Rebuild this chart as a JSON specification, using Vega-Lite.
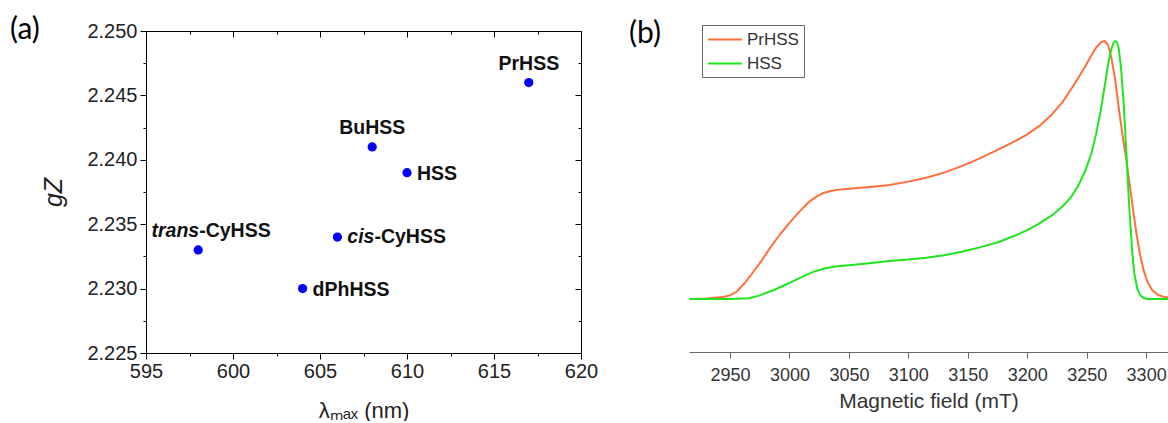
{
  "$schema": "https://vega.github.io/schema/vega-lite/v6.json",
  "background": "white",
  "padding": {"left": 10, "top": 15, "right": 0, "bottom": 0},
  "bounds": "flush",
  "spacing": 108,
  "resolve": {"legend": {"color": "independent"}},
  "config": {"view": {"stroke": null}, "axis": {"grid": false}},
  "datasets": {
    "points": [
      {"name": "trans-CyHSS", "lambda": 598, "gz": 2.233, "prefix": "trans", "suffix": "-CyHSS"},
      {"name": "dPhHSS", "lambda": 604, "gz": 2.230, "prefix": "", "suffix": "dPhHSS"},
      {"name": "cis-CyHSS", "lambda": 606, "gz": 2.234, "prefix": "cis", "suffix": "-CyHSS"},
      {"name": "BuHSS", "lambda": 608, "gz": 2.241, "prefix": "", "suffix": "BuHSS"},
      {"name": "HSS", "lambda": 610, "gz": 2.239, "prefix": "", "suffix": "HSS"},
      {"name": "PrHSS", "lambda": 617, "gz": 2.246, "prefix": "", "suffix": "PrHSS"}
    ],
    "spectrum": [
      {"sample": "PrHSS", "B": 2916, "I": 0.000},
      {"sample": "PrHSS", "B": 2930, "I": 0.002},
      {"sample": "PrHSS", "B": 2944, "I": 0.008},
      {"sample": "PrHSS", "B": 2950, "I": 0.014},
      {"sample": "PrHSS", "B": 2956, "I": 0.030},
      {"sample": "PrHSS", "B": 2962, "I": 0.060},
      {"sample": "PrHSS", "B": 2968, "I": 0.095},
      {"sample": "PrHSS", "B": 2976, "I": 0.145},
      {"sample": "PrHSS", "B": 2984, "I": 0.200},
      {"sample": "PrHSS", "B": 2992, "I": 0.250},
      {"sample": "PrHSS", "B": 3000, "I": 0.295},
      {"sample": "PrHSS", "B": 3008, "I": 0.337},
      {"sample": "PrHSS", "B": 3016, "I": 0.375},
      {"sample": "PrHSS", "B": 3022, "I": 0.395},
      {"sample": "PrHSS", "B": 3028, "I": 0.410},
      {"sample": "PrHSS", "B": 3034, "I": 0.418},
      {"sample": "PrHSS", "B": 3040, "I": 0.423},
      {"sample": "PrHSS", "B": 3050, "I": 0.427},
      {"sample": "PrHSS", "B": 3060, "I": 0.431},
      {"sample": "PrHSS", "B": 3070, "I": 0.435},
      {"sample": "PrHSS", "B": 3084, "I": 0.442},
      {"sample": "PrHSS", "B": 3100, "I": 0.455},
      {"sample": "PrHSS", "B": 3115, "I": 0.470},
      {"sample": "PrHSS", "B": 3130, "I": 0.490},
      {"sample": "PrHSS", "B": 3145, "I": 0.515},
      {"sample": "PrHSS", "B": 3160, "I": 0.545},
      {"sample": "PrHSS", "B": 3176, "I": 0.580},
      {"sample": "PrHSS", "B": 3190, "I": 0.612},
      {"sample": "PrHSS", "B": 3200, "I": 0.638},
      {"sample": "PrHSS", "B": 3210, "I": 0.670},
      {"sample": "PrHSS", "B": 3220, "I": 0.712},
      {"sample": "PrHSS", "B": 3230, "I": 0.765},
      {"sample": "PrHSS", "B": 3240, "I": 0.835},
      {"sample": "PrHSS", "B": 3248, "I": 0.895},
      {"sample": "PrHSS", "B": 3254, "I": 0.945},
      {"sample": "PrHSS", "B": 3258, "I": 0.975},
      {"sample": "PrHSS", "B": 3262, "I": 0.995},
      {"sample": "PrHSS", "B": 3265, "I": 1.000},
      {"sample": "PrHSS", "B": 3268, "I": 0.985},
      {"sample": "PrHSS", "B": 3271, "I": 0.930},
      {"sample": "PrHSS", "B": 3274, "I": 0.850},
      {"sample": "PrHSS", "B": 3277, "I": 0.740},
      {"sample": "PrHSS", "B": 3280, "I": 0.640},
      {"sample": "PrHSS", "B": 3283, "I": 0.550},
      {"sample": "PrHSS", "B": 3286, "I": 0.450},
      {"sample": "PrHSS", "B": 3289, "I": 0.345},
      {"sample": "PrHSS", "B": 3292, "I": 0.250},
      {"sample": "PrHSS", "B": 3295, "I": 0.170},
      {"sample": "PrHSS", "B": 3298, "I": 0.110},
      {"sample": "PrHSS", "B": 3301, "I": 0.068},
      {"sample": "PrHSS", "B": 3305, "I": 0.035},
      {"sample": "PrHSS", "B": 3310, "I": 0.016},
      {"sample": "PrHSS", "B": 3315, "I": 0.008},
      {"sample": "PrHSS", "B": 3319, "I": 0.005},
      {"sample": "HSS", "B": 2916, "I": 0.000},
      {"sample": "HSS", "B": 2950, "I": 0.000},
      {"sample": "HSS", "B": 2966, "I": 0.003},
      {"sample": "HSS", "B": 2975, "I": 0.014},
      {"sample": "HSS", "B": 2987, "I": 0.035},
      {"sample": "HSS", "B": 2999, "I": 0.060},
      {"sample": "HSS", "B": 3010, "I": 0.085},
      {"sample": "HSS", "B": 3020, "I": 0.105},
      {"sample": "HSS", "B": 3030, "I": 0.119},
      {"sample": "HSS", "B": 3040, "I": 0.127},
      {"sample": "HSS", "B": 3048, "I": 0.130},
      {"sample": "HSS", "B": 3065, "I": 0.138},
      {"sample": "HSS", "B": 3084, "I": 0.147},
      {"sample": "HSS", "B": 3100, "I": 0.153},
      {"sample": "HSS", "B": 3115, "I": 0.160},
      {"sample": "HSS", "B": 3130, "I": 0.170},
      {"sample": "HSS", "B": 3145, "I": 0.183},
      {"sample": "HSS", "B": 3160, "I": 0.200},
      {"sample": "HSS", "B": 3176, "I": 0.221},
      {"sample": "HSS", "B": 3190, "I": 0.246},
      {"sample": "HSS", "B": 3200, "I": 0.267},
      {"sample": "HSS", "B": 3210, "I": 0.292},
      {"sample": "HSS", "B": 3221, "I": 0.325},
      {"sample": "HSS", "B": 3230, "I": 0.360},
      {"sample": "HSS", "B": 3237, "I": 0.396},
      {"sample": "HSS", "B": 3243, "I": 0.440},
      {"sample": "HSS", "B": 3249, "I": 0.499},
      {"sample": "HSS", "B": 3254, "I": 0.565},
      {"sample": "HSS", "B": 3258, "I": 0.641},
      {"sample": "HSS", "B": 3262, "I": 0.735},
      {"sample": "HSS", "B": 3265.5, "I": 0.835},
      {"sample": "HSS", "B": 3268, "I": 0.910},
      {"sample": "HSS", "B": 3270.5, "I": 0.964},
      {"sample": "HSS", "B": 3272.5, "I": 0.992},
      {"sample": "HSS", "B": 3274, "I": 1.000},
      {"sample": "HSS", "B": 3275.5, "I": 0.995},
      {"sample": "HSS", "B": 3277, "I": 0.970},
      {"sample": "HSS", "B": 3279, "I": 0.890},
      {"sample": "HSS", "B": 3281, "I": 0.767},
      {"sample": "HSS", "B": 3283, "I": 0.600},
      {"sample": "HSS", "B": 3285.5, "I": 0.380},
      {"sample": "HSS", "B": 3288, "I": 0.200},
      {"sample": "HSS", "B": 3290, "I": 0.100},
      {"sample": "HSS", "B": 3292.5, "I": 0.040},
      {"sample": "HSS", "B": 3295, "I": 0.015},
      {"sample": "HSS", "B": 3298, "I": 0.004},
      {"sample": "HSS", "B": 3301, "I": 0.000},
      {"sample": "HSS", "B": 3319, "I": 0.000}
    ]
  },
  "hconcat": [
    {
      "width": 435,
      "height": 322,
      "title": {"text": "(a)", "anchor": "start", "frame": "group", "dx": -136, "dy": 24, "offset": 0, "font": "Lato", "fontSize": 30, "fontWeight": "normal", "color": "black"},
      "data": {"name": "points"},
      "layer": [
        {
          "mark": {"type": "point", "filled": true, "size": 85, "color": "#0000ff", "opacity": 1},
          "encoding": {
            "x": {"field": "lambda", "type": "quantitative", "scale": {"domain": [595, 620], "nice": false, "zero": false},
              "axis": {"orient": "bottom", "values": [595, 597.5, 600, 602.5, 605, 607.5, 610, 612.5, 615, 617.5, 620],
                "labelExpr": "datum.value % 5 === 0 ? datum.label : ''",
                "tickSize": {"condition": {"test": "datum.value % 5 !== 0", "value": 3}, "value": 6},
                "domainColor": "black", "tickColor": "black", "labelColor": "#222", "labelFont": "Liberation Sans", "labelFontSize": 20, "labelPadding": 2, "labelOverlap": false, "labelFlush": false,
                "title": "λₘₐₓ (nm)", "titleFont": "Liberation Sans", "titleFontSize": 22, "titleFontWeight": "normal", "titleColor": "#222", "titlePadding": 19}},
            "y": {"field": "gz", "type": "quantitative", "scale": {"domain": [2.225, 2.25], "nice": false, "zero": false},
              "axis": {"orient": "left", "values": [2.225, 2.2275, 2.23, 2.2325, 2.235, 2.2375, 2.24, 2.2425, 2.245, 2.2475, 2.25], "format": ".3f",
                "labelExpr": "abs(round(datum.value*10000) % 50) < 1 ? datum.label : ''",
                "tickSize": {"condition": {"test": "abs(round(datum.value*10000) % 50) >= 1", "value": 3}, "value": 6},
                "domainColor": "black", "tickColor": "black", "labelColor": "#222", "labelFont": "Liberation Sans", "labelFontSize": 20, "labelPadding": 3, "labelOverlap": false, "labelFlush": false,
                "title": "gZ", "titleFont": "Liberation Sans", "titleFontSize": 25, "titleFontWeight": "normal", "titleFontStyle": "italic", "titleColor": "#222", "titlePadding": 20}}
          }
        },
        {
          "mark": {"type": "point", "opacity": 0},
          "encoding": {
            "x": {"field": "lambda", "type": "quantitative",
              "axis": {"orient": "top", "values": [595, 597.5, 600, 602.5, 605, 607.5, 610, 612.5, 615, 617.5, 620], "labels": false, "title": null,
                "tickSize": {"condition": {"test": "datum.value % 5 !== 0", "value": -3}, "value": -6},
                "domainColor": "black", "tickColor": "black"}},
            "y": {"field": "gz", "type": "quantitative",
              "axis": {"orient": "right", "values": [2.225, 2.2275, 2.23, 2.2325, 2.235, 2.2375, 2.24, 2.2425, 2.245, 2.2475, 2.25], "labels": false, "title": null,
                "tickSize": {"condition": {"test": "abs(round(datum.value*10000) % 50) >= 1", "value": -3}, "value": -6},
                "domainColor": "black", "tickColor": "black"}}
          }
        },
        {
          "transform": [{"filter": "datum.name === 'PrHSS' || datum.name === 'BuHSS'"}],
          "mark": {"type": "text", "font": "Liberation Sans", "fontWeight": "bold", "fontSize": 19.5, "color": "#111", "align": "center", "baseline": "middle", "dy": -19},
          "encoding": {"x": {"field": "lambda", "type": "quantitative", "axis": null}, "y": {"field": "gz", "type": "quantitative", "axis": null}, "text": {"field": "suffix"}}
        },
        {
          "transform": [{"filter": "datum.name === 'HSS' || datum.name === 'dPhHSS'"}],
          "mark": {"type": "text", "font": "Liberation Sans", "fontWeight": "bold", "fontSize": 19.5, "color": "#111", "align": "left", "baseline": "middle", "dx": 10, "dy": 1},
          "encoding": {"x": {"field": "lambda", "type": "quantitative", "axis": null}, "y": {"field": "gz", "type": "quantitative", "axis": null}, "text": {"field": "suffix"}}
        },
        {
          "transform": [{"filter": "datum.name === 'cis-CyHSS'"}],
          "mark": {"type": "text", "font": "Liberation Sans", "fontWeight": "bold", "fontStyle": "italic", "fontSize": 19.5, "color": "#111", "align": "right", "baseline": "middle", "dx": 37, "dy": 0},
          "encoding": {"x": {"field": "lambda", "type": "quantitative", "axis": null}, "y": {"field": "gz", "type": "quantitative", "axis": null}, "text": {"field": "prefix"}}
        },
        {
          "transform": [{"filter": "datum.name === 'cis-CyHSS'"}],
          "mark": {"type": "text", "font": "Liberation Sans", "fontWeight": "bold", "fontSize": 19.5, "color": "#111", "align": "left", "baseline": "middle", "dx": 37, "dy": 0},
          "encoding": {"x": {"field": "lambda", "type": "quantitative", "axis": null}, "y": {"field": "gz", "type": "quantitative", "axis": null}, "text": {"field": "suffix"}}
        },
        {
          "transform": [{"filter": "datum.name === 'trans-CyHSS'"}],
          "mark": {"type": "text", "font": "Liberation Sans", "fontWeight": "bold", "fontStyle": "italic", "fontSize": 19.5, "color": "#111", "align": "right", "baseline": "middle", "dx": 1, "dy": -19},
          "encoding": {"x": {"field": "lambda", "type": "quantitative", "axis": null}, "y": {"field": "gz", "type": "quantitative", "axis": null}, "text": {"field": "prefix"}}
        },
        {
          "transform": [{"filter": "datum.name === 'trans-CyHSS'"}],
          "mark": {"type": "text", "font": "Liberation Sans", "fontWeight": "bold", "fontSize": 19.5, "color": "#111", "align": "left", "baseline": "middle", "dx": 1, "dy": -19},
          "encoding": {"x": {"field": "lambda", "type": "quantitative", "axis": null}, "y": {"field": "gz", "type": "quantitative", "axis": null}, "text": {"field": "suffix"}}
        }
      ],
      "resolve": {"axis": {"x": "independent", "y": "independent"}}
    },
    {
      "width": 479,
      "height": 321,
      "title": {"text": "(b)", "anchor": "start", "frame": "group", "dx": -60, "dy": 24, "offset": 0, "font": "Lato", "fontSize": 30, "fontWeight": "normal", "color": "black"},
      "data": {"name": "spectrum"},
      "mark": {"type": "line", "strokeWidth": 2},
      "encoding": {
        "x": {"field": "B", "type": "quantitative", "scale": {"domain": [2915.5, 3318.4], "nice": false, "zero": false},
          "axis": {"orient": "bottom", "values": [2950, 3000, 3050, 3100, 3150, 3200, 3250, 3300], "format": "d",
            "domainColor": "#666", "tickColor": "#666", "tickSize": 6, "labelColor": "#333", "labelFont": "Liberation Sans", "labelFontSize": 18, "labelPadding": 8, "labelOverlap": false, "labelFlush": false,
            "title": "Magnetic field (mT)", "titleFont": "Liberation Sans", "titleFontSize": 21, "titleFontWeight": "normal", "titleColor": "#333", "titlePadding": 6}},
        "y": {"field": "I", "type": "quantitative", "scale": {"domain": [-0.2054, 1.0388], "nice": false, "zero": false}, "axis": null},
        "color": {"field": "sample", "type": "nominal", "scale": {"domain": ["PrHSS", "HSS"], "range": ["#ff6f3c", "#1ee61e"]},
          "legend": {"orient": "none", "legendX": 13, "legendY": -6, "title": null, "symbolType": "M-1,0H3", "symbolSize": 289, "symbolStrokeWidth": 2, "labelOffset": 21,
            "labelFont": "Liberation Sans", "labelFontSize": 17, "labelColor": "#333", "strokeColor": "#666", "fillColor": "white", "padding": 5, "rowPadding": 6, "cornerRadius": 0}}
      }
    }
  ]
}
